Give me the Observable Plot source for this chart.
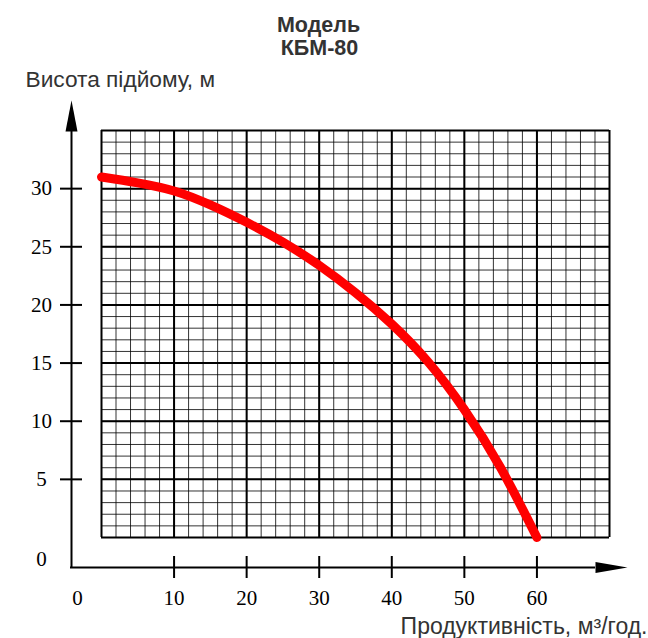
<!DOCTYPE html>
<html>
<head>
<meta charset="utf-8">
<script src="https://cdn.jsdelivr.net/npm/d3@7"></script>
<script src="https://cdn.jsdelivr.net/npm/@observablehq/plot@0.6"></script>
<style>
  html, body { margin: 0; padding: 0; background: #fff; }
</style>
</head>
<body>
<div id="chart"></div>
<script>
// ---- data ----
const flow = [0, 5, 10, 15, 20, 25, 30, 35, 40, 45, 50, 55, 60];           // м³/год
const head = [31, 30.5, 29.8, 28.6, 27.1, 25.4, 23.4, 21.05, 18.35, 15.1, 11.0, 6.0, 0]; // м
const xTicks = [10, 20, 30, 40, 50, 60];
const yTicks = [5, 10, 15, 20, 25, 30];
const xMinor = d3.range(0, 71, 2);
const xMajor = d3.range(0, 71, 10);
const yMinor = d3.range(0, 36, 1);
const yMajor = d3.range(0, 36, 5);
const titleLines = ["Модель", "КБМ-80"];
const yLabel = "Висота підйому, м";
const xLabel = "Продуктивність, м³/год.";

const curve = flow.map((q, i) => ({q, h: head[i]}));

const arrowUp = {draw(ctx) { ctx.moveTo(0, -30); ctx.lineTo(6, 1); ctx.lineTo(-6, 1); ctx.closePath(); }};
const arrowRight = {draw(ctx) { ctx.moveTo(0, 0); ctx.lineTo(-32, -5.5); ctx.lineTo(-32, 5.5); ctx.closePath(); }};

const sans = "Liberation Sans, Arial, sans-serif";
const serif = "Liberation Serif, Times New Roman, serif";

const chart = Plot.plot({
  width: 648,
  height: 638,
  marginLeft: 101,
  marginRight: 39,
  marginTop: 130,
  marginBottom: 101,
  x: {domain: [0, 70], axis: null},
  y: {domain: [0, 35], axis: null},
  marks: [
    // minor grid
    Plot.ruleX(xMinor, {x: d => d, stroke: "#000", strokeOpacity: 0.8, strokeWidth: 1}),
    Plot.ruleY(yMinor, {y: d => d, stroke: "#000", strokeOpacity: 0.8, strokeWidth: 1}),
    // major grid
    Plot.ruleX(xMajor, {x: d => d, stroke: "#000", strokeWidth: 2}),
    Plot.ruleY(yMajor, {y: d => d, stroke: "#000", strokeWidth: 2}),
    // axes lines (offset from the grid)
    Plot.ruleX([0], {x: d => d, dx: -30, insetBottom: -31, stroke: "#000", strokeWidth: 2}),
    Plot.ruleY([0], {y: d => d, dy: 30, insetLeft: -31, insetRight: 14, stroke: "#000", strokeWidth: 2}),
    Plot.dot([0], {x: 0, y: 35, dx: -30, symbol: arrowUp, fill: "#000", stroke: "none"}),
    Plot.dot([0], {x: 70, y: 0, dx: 18, dy: 30, symbol: arrowRight, fill: "#000", stroke: "none"}),
    // axis ticks
    Plot.ruleY(yTicks, {y: d => d, insetLeft: -41, insetRight: 527, stroke: "#000", strokeWidth: 2}),
    Plot.ruleX(xTicks, {x: d => d, insetTop: 426, insetBottom: -41, stroke: "#000", strokeWidth: 2}),
    // tick labels
    Plot.text(yTicks, {y: d => d, x: 0, dx: -60, text: d => String(d), textAnchor: "middle", lineAnchor: "middle", fontFamily: serif, fontSize: 21, fill: "#000"}),
    Plot.text([0], {y: 0, x: 0, dx: -60, dy: 22, text: d => String(d), textAnchor: "middle", lineAnchor: "middle", fontFamily: serif, fontSize: 21, fill: "#000"}),
    Plot.text(xTicks, {x: d => d, y: 0, dy: 61, text: d => String(d), textAnchor: "middle", lineAnchor: "middle", fontFamily: serif, fontSize: 21, fill: "#000"}),
    Plot.text([0], {x: 0, y: 0, dx: -24, dy: 61, text: d => String(d), textAnchor: "middle", lineAnchor: "middle", fontFamily: serif, fontSize: 21, fill: "#000"}),
    // curve
    Plot.line(curve, {x: "q", y: "h", curve: "natural", stroke: "#ff0000", strokeWidth: 9, strokeLinecap: "round", strokeLinejoin: "round"}),
    // titles and labels
    Plot.text([titleLines[0]], {frameAnchor: "top-left", dx: 217, dy: -99, text: d => d, textAnchor: "middle", lineAnchor: "bottom", fontFamily: sans, fontWeight: "bold", fontSize: 21.5, fill: "#333"}),
    Plot.text([titleLines[1]], {frameAnchor: "top-left", dx: 218, dy: -75.5, text: d => d, textAnchor: "middle", lineAnchor: "bottom", fontFamily: sans, fontWeight: "bold", fontSize: 21.5, fill: "#333"}),
    Plot.text([yLabel], {frameAnchor: "top-left", dx: -76, dy: -44, text: d => d, textAnchor: "start", lineAnchor: "bottom", fontFamily: sans, fontSize: 22.7, fill: "#333"}),
    Plot.text([xLabel], {frameAnchor: "bottom-right", dx: 38, dy: 96, text: d => d, textAnchor: "end", lineAnchor: "bottom", fontFamily: sans, fontSize: 23, fill: "#333"})
  ]
});
document.getElementById("chart").appendChild(chart);
</script>
</body>
</html>
